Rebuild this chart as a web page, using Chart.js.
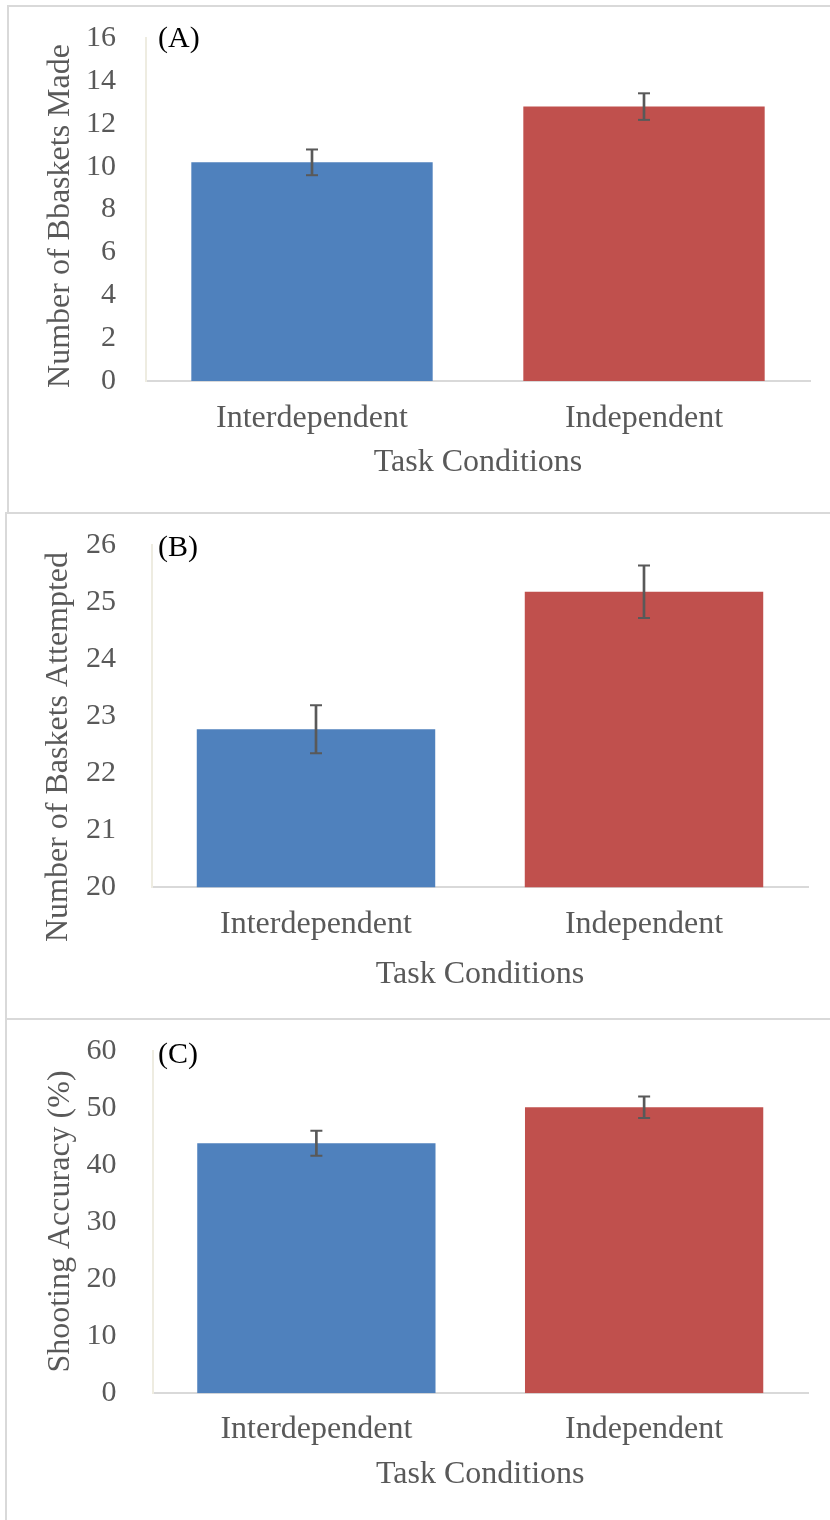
<!DOCTYPE html>
<html>
<head>
<meta charset="utf-8">
<script src="https://cdn.jsdelivr.net/npm/chart.js@4.4.1/dist/chart.umd.min.js"></script>
<style>
  html, body { margin:0; padding:0; background:#fff; width:830px; height:1520px; overflow:hidden; position:relative; }
  .panel { position:absolute; border:2px solid #d9d9d9; box-sizing:border-box; width:1000px; }
  canvas { position:absolute; left:0; }
</style>
</head>
<body>
<div class="panel" style="left:7px;top:5px;height:509px;"></div>
<div class="panel" style="left:5px;top:512px;height:508px;"></div>
<div class="panel" style="left:5px;top:1018px;height:600px;"></div>
<canvas id="cA" width="830" height="513" style="top:0px;"></canvas>
<canvas id="cB" width="830" height="506" style="top:513px;"></canvas>
<canvas id="cC" width="830" height="501" style="top:1019px;"></canvas>
<script>
// ---------- data ----------
const categories = ['Interdependent', 'Independent'];

const madeMeans = [10.2, 12.8];
const madeErrors = [0.6, 0.62];
const madeTicks = [0, 2, 4, 6, 8, 10, 12, 14, 16];

const attemptedMeans = [22.77, 25.18];
const attemptedErrors = [0.42, 0.46];
const attemptedTicks = [20, 21, 22, 23, 24, 25, 26];

const accuracyMeans = [43.8, 50.1];
const accuracyErrors = [2.2, 1.9];
const accuracyTicks = [0, 10, 20, 30, 40, 50, 60];

const panelLetters = ['(A)', '(B)', '(C)'];
const yTitles = ['Number of Bbaskets Made', 'Number of Baskets Attempted', 'Shooting Accuracy (%)'];
const xTitle = 'Task Conditions';

// ---------- styling ----------
const barColors = ['#4F81BD', '#C0504D'];
const errColor = '#595959';
const textColor = '#595959';
const serif = '"Liberation Serif", "Times New Roman", serif';

const annotPlugin = {
  id: 'annot',
  afterDraw(chart, args, o) {
    const ctx = chart.ctx;
    ctx.save();
    ctx.fillStyle = '#000';
    ctx.font = '30px ' + serif;
    ctx.textAlign = 'left';
    ctx.textBaseline = 'alphabetic';
    ctx.fillText(o.letter, o.lx, o.ly);
    ctx.translate(o.tx, o.ty);
    ctx.rotate(-Math.PI / 2);
    ctx.fillStyle = textColor;
    ctx.font = '32px ' + serif;
    ctx.textAlign = 'center';
    ctx.textBaseline = 'middle';
    ctx.fillText(o.ytitle, 0, 0);
    ctx.restore();
  }
};

function makeChart(id, means, errors, ticks, L) {
  const lows = means.map((m, i) => m - errors[i]);
  const highs = means.map((m, i) => m + errors[i]);
  const stems = lows.map((lo, i) => [lo, highs[i]]);
  return new Chart(document.getElementById(id), {
    type: 'bar',
    data: {
      labels: categories,
      datasets: [
        { type: 'line', data: highs, showLine: false, pointStyle: 'line', pointRadius: 6,
          pointBorderColor: errColor, pointBorderWidth: 2, pointBackgroundColor: errColor, order: 0 },
        { type: 'line', data: lows, showLine: false, pointStyle: 'line', pointRadius: 6,
          pointBorderColor: errColor, pointBorderWidth: 2, pointBackgroundColor: errColor, order: 0 },
        { data: stems, backgroundColor: errColor, barThickness: 2, grouped: false, order: 1 },
        { data: means, backgroundColor: barColors, grouped: false,
          categoryPercentage: 1, barPercentage: 0.727, order: 2 }
      ]
    },
    options: {
      responsive: false,
      animation: false,
      devicePixelRatio: 1,
      events: [],
      layout: { padding: { top: L.top, right: L.right, left: 0, bottom: 0 } },
      plugins: {
        legend: { display: false },
        tooltip: { enabled: false },
        annot: L.annot
      },
      scales: {
        x: {
          offset: true,
          grid: { display: false, drawTicks: false },
          border: { display: true, color: '#d9d9d9', width: 2 },
          ticks: { color: textColor, font: { family: serif, size: 32 }, padding: L.xpad },
          title: { display: true, text: xTitle, color: textColor,
                   font: { family: serif, size: 32 }, padding: { top: 0, bottom: L.xtitlePad } },
          afterFit: s => { s.height = L.xh; s.paddingLeft = 0; s.paddingRight = 0; }
        },
        y: {
          min: ticks[0],
          max: ticks[ticks.length - 1],
          afterBuildTicks: s => { s.ticks = ticks.map(v => ({ value: v })); },
          grid: { display: false, drawTicks: false },
          border: { display: true, color: '#eeece1', width: 2 },
          ticks: { color: textColor, font: { family: serif, size: 30 }, padding: L.ypad },
          afterFit: s => { s.width = L.yw; s.paddingTop = 0; s.paddingBottom = 0; }
        }
      }
    },
    plugins: [annotPlugin]
  });
}

makeChart('cA', madeMeans, madeErrors, madeTicks, {
  top: 38, right: 20, xh: 132, yw: 146, xpad: 18.6, xtitlePad: 31, ypad: 30,
  annot: { letter: panelLetters[0], lx: 158, ly: 47, ytitle: yTitles[0], tx: 61, ty: 216 }
});
makeChart('cB', attemptedMeans, attemptedErrors, attemptedTicks, {
  top: 32, right: 22, xh: 131.7, yw: 152, xpad: 17.7, xtitlePad: 25.5, ypad: 36,
  annot: { letter: panelLetters[1], lx: 158, ly: 43, ytitle: yTitles[1], tx: 59, ty: 234 }
});
makeChart('cC', accuracyMeans, accuracyErrors, accuracyTicks, {
  top: 31.7, right: 22, xh: 126.7, yw: 152.5, xpad: 17.4, xtitlePad: 26.5, ypad: 36,
  annot: { letter: panelLetters[2], lx: 158, ly: 44, ytitle: yTitles[2], tx: 61, ty: 202.5 }
});
</script>
</body>
</html>
